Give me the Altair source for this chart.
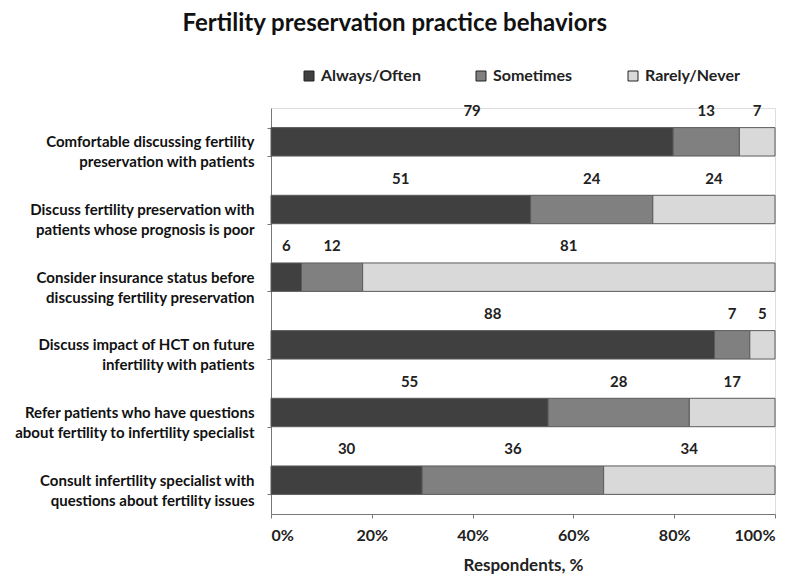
import altair as alt
import pandas as pd

line1 = [
    "Comfortable discussing fertility",
    "Discuss fertility preservation with",
    "Consider insurance status before",
    "Discuss impact of HCT on future",
    "Refer patients who have questions",
    "Consult infertility specialist with",
]
line2 = [
    "preservation with patients",
    "patients whose prognosis is poor",
    "discussing fertility preservation",
    "infertility with patients",
    "about fertility to infertility specialist",
    "questions about fertility issues",
]
series = ["Always/Often", "Sometimes", "Rarely/Never"]
always = [79, 51, 6, 88, 55, 30]
sometimes = [13, 24, 12, 7, 28, 36]
rarely = [7, 24, 81, 5, 17, 34]
colors = ["#404040", "#808080", "#d9d9d9"]

questions = [a + "|" + b for a, b in zip(line1, line2)]
rows = []
for i, q in enumerate(questions):
    for k, (s, vals) in enumerate(zip(series, [always, sometimes, rarely])):
        rows.append({"question": q, "series": s, "order": k, "value": vals[i]})
df = pd.DataFrame(rows)

FONT = "Lato"

base = alt.Chart(df).transform_stack(
    stack="value",
    groupby=["question"],
    as_=["x0", "x1"],
    offset="normalize",
    sort=[alt.SortField("order", order="ascending")],
).transform_calculate(mid="(datum.x0 + datum.x1) / 2")

yenc = alt.Y(
    "question:N",
    sort=questions,
    title=None,
    scale=alt.Scale(paddingInner=0.58, paddingOuter=0.29),
    axis=alt.Axis(
        labelExpr="split(datum.label, '|')",
        labelAlign="right",
        labelFont=FONT,
        labelFontSize=15,
        labelFontWeight="bold",
        labelColor="#111111",
        labelLineHeight=20,
        labelPadding=13,
        labelLimit=300,
        tickBand="extent",
        tickSize=4,
        tickColor="#777777",
        domainColor="#777777",
        minExtent=252,
        maxExtent=252,
        grid=False,
    ),
)

bars = base.mark_bar(stroke="#5a5a5a", strokeWidth=1).encode(
    y=yenc,
    x=alt.X(
        "x0:Q",
        scale=alt.Scale(domain=[0, 1]),
        title="Respondents, %",
        axis=alt.Axis(
            format=".0%",
            values=[0, 0.2, 0.4, 0.6, 0.8, 1.0],
            labelFont=FONT,
            labelFontSize=16,
            labelFontWeight="bold",
            labelColor="#222222",
            labelPadding=9,
            tickSize=4,
            tickColor="#777777",
            domainColor="#777777",
            titleFont=FONT,
            titleFontSize=17,
            titleFontWeight="bold",
            titleColor="#222222",
            titlePadding=14,
            grid=False,
        ),
    ),
    x2="x1:Q",
    color=alt.Color(
        "series:N",
        sort=series,
        scale=alt.Scale(domain=series, range=colors),
        legend=alt.Legend(
            title=None,
            orient="none",
            legendX=30,
            legendY=-40,
            direction="horizontal",
            columns=3,
            columnPadding=52,
            symbolType="square",
            symbolSize=100,
            symbolStrokeColor="#222222",
            symbolStrokeWidth=1,
            labelFont=FONT,
            labelFontSize=16,
            labelFontWeight="bold",
            labelColor="#222222",
            labelOffset=4,
        ),
    ),
    order=alt.Order("order:Q"),
)

labels = base.mark_text(
    dy=-31, font=FONT, fontSize=15, fontWeight="bold", color="#222222"
).encode(
    y=alt.Y("question:N", sort=questions),
    x=alt.X("mid:Q"),
    text=alt.Text("value:Q"),
)

chart = (
    alt.layer(bars, labels)
    .properties(
        width=504,
        height=406,
        padding={"left": 5, "top": 4, "right": 5, "bottom": 5},
        title=alt.TitleParams(
            "Fertility preservation practice behaviors",
            font=FONT,
            fontSize=24,
            fontWeight="bold",
            color="#111111",
            anchor="middle",
            frame="bounds",
            offset=32,
        ),
    )
    .configure_view(stroke=None)
    .configure(background="white")
)

chart.save("out.html", embed_options={"renderer": "svg", "actions": False})
